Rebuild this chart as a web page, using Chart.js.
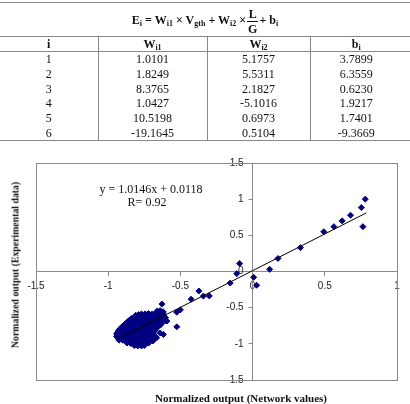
<!DOCTYPE html>
<html>
<head>
<meta charset="utf-8">
<script src="https://cdn.jsdelivr.net/npm/chart.js@4/dist/chart.umd.min.js"></script>
<style>
  html, body { margin:0; padding:0; background:#fff; }
  body { width:410px; height:404px; position:relative; overflow:hidden; }
  #chart { position:absolute; left:0; top:0; }
  table { position:absolute; left:0; top:2px; width:410px; border-collapse:collapse;
          font-family:'Liberation Serif','Times New Roman',serif; font-size:12px; color:#111; table-layout:fixed; }
  td { padding:0; text-align:center; line-height:12px; }
  tr.formula td { height:29px; border-top:1px solid #888; border-bottom:1px solid #888; font-weight:bold; font-size:12px; padding-top:4px; }
  tr.head td { height:14px; border-bottom:1px solid #888; font-weight:bold; }
  tr.data td { height:14.7px; }
  tr.last td { border-bottom:1px solid #888; }
  td + td { border-left:1px solid #888; }
  tr.formula td + td { border-left:none; }
  sub { font-size:8px; vertical-align:-2px; line-height:0; }
  .frac { display:inline-block; vertical-align:middle; text-align:center; margin:0 1px; }
  .frac span { display:block; line-height:14px; padding:0 1px; }
  .frac span + span { border-top:1px solid #111; }
  .title { position:absolute; font-family:'Liberation Serif','Times New Roman',serif; font-weight:bold; white-space:nowrap; color:#111; }
  .note { position:absolute; font-family:'Liberation Serif','Times New Roman',serif; font-size:12px; white-space:nowrap; color:#111; transform:translate(-50%,-50%); }
</style>
</head>
<body>
<canvas id="chart" width="410" height="404"></canvas>
<table id="tbl"></table>
<div class="title" id="xTitle" style="left:241px; top:398px; font-size:11px; transform:translate(-50%,-50%);"></div>
<div class="title" id="yTitle" style="left:15px; top:265px; font-size:9.8px; transform:translate(-50%,-50%) rotate(-90deg);"></div>
<div class="note" id="eqLine" style="left:151px; top:189px;"></div>
<div class="note" id="rLine" style="left:147px; top:202px;"></div>
<script>
// ---------- table data ----------
const rowIndex = ['1','2','3','4','5','6'];
const wi1 = ['1.0101','1.8249','8.3765','1.0427','10.5198','-19.1645'];
const wi2 = ['5.1757','5.5311','2.1827','-5.1016','0.6973','0.5104'];
const bi  = ['3.7899','6.3559','0.6230','1.9217','1.7401','-9.3669'];

// ---------- chart data ----------
const xTickValues = [-1.5, -1, -0.5, 0, 0.5, 1];
const yTickValues = [-1.5, -1, -0.5, 0, 0.5, 1, 1.5];
const xTitleText = 'Normalized output (Network values)';
const yTitleText = 'Normalized output (Experimental data)';
const equationText = 'y = 1.0146x + 0.0118';
const rText = 'R= 0.92';

// scattered points [network value, experimental value]
const outerPoints = [
  [0.78,1.0],[0.753,0.884],[0.764,0.62],[0.678,0.778],[0.62,0.70],[0.563,0.62],[0.493,0.55],
  [0.331,0.33],[0.176,0.18],[0.118,0.03],[-0.09,0.11],[-0.11,-0.03],[0.007,-0.08],[0.028,-0.19],
  [-0.155,-0.16],[-0.372,-0.27],[-0.30,-0.337],[-0.341,-0.34],[-0.426,-0.383],[-0.50,-0.53],
  [-0.525,-0.563],[-0.525,-0.765],[-0.628,-0.45],[-0.594,-0.685],[-0.618,-0.87],[-0.64,-0.85],
  [-0.664,-0.915],[-0.69,-0.96],[-0.68,-0.89]
];
// dense cluster points [network value, experimental value]
const clusterPoints = [
  [-0.66,-0.55],[-0.64,-0.545],[-0.62,-0.56],
  [-0.79,-0.60],[-0.77,-0.59],[-0.745,-0.59],[-0.72,-0.585],[-0.695,-0.59],[-0.67,-0.585],[-0.645,-0.58],[-0.62,-0.595],
  [-0.82,-0.64],[-0.80,-0.63],[-0.775,-0.63],[-0.75,-0.625],[-0.725,-0.63],[-0.70,-0.63],[-0.675,-0.625],[-0.65,-0.63],[-0.625,-0.63],[-0.605,-0.64],
  [-0.855,-0.68],[-0.83,-0.675],[-0.805,-0.67],[-0.78,-0.675],[-0.755,-0.675],[-0.73,-0.67],[-0.705,-0.675],[-0.68,-0.67],[-0.655,-0.675],[-0.63,-0.67],[-0.605,-0.68],
  [-0.88,-0.725],[-0.855,-0.72],[-0.83,-0.72],[-0.805,-0.715],[-0.78,-0.72],[-0.755,-0.72],[-0.73,-0.715],[-0.705,-0.72],[-0.68,-0.72],[-0.655,-0.725],[-0.635,-0.73],
  [-0.905,-0.77],[-0.88,-0.765],[-0.855,-0.765],[-0.83,-0.76],[-0.805,-0.765],[-0.78,-0.765],[-0.755,-0.76],[-0.73,-0.765],[-0.705,-0.765],[-0.68,-0.77],[-0.655,-0.76],
  [-0.925,-0.815],[-0.90,-0.81],[-0.875,-0.81],[-0.85,-0.805],[-0.825,-0.81],[-0.80,-0.81],[-0.775,-0.805],[-0.75,-0.81],[-0.725,-0.81],[-0.70,-0.815],[-0.675,-0.81],
  [-0.94,-0.86],[-0.915,-0.855],[-0.89,-0.855],[-0.865,-0.85],[-0.84,-0.855],[-0.815,-0.855],[-0.79,-0.85],[-0.765,-0.855],[-0.74,-0.855],[-0.715,-0.86],[-0.69,-0.855],
  [-0.94,-0.90],[-0.915,-0.90],[-0.89,-0.895],[-0.865,-0.90],[-0.84,-0.90],[-0.815,-0.895],[-0.79,-0.90],[-0.765,-0.90],[-0.74,-0.895],[-0.715,-0.905],
  [-0.925,-0.945],[-0.90,-0.945],[-0.875,-0.94],[-0.85,-0.945],[-0.825,-0.945],[-0.80,-0.94],[-0.775,-0.945],[-0.75,-0.945],[-0.725,-0.95],[-0.70,-0.945],
  [-0.87,-0.985],[-0.845,-0.99],[-0.82,-0.99],[-0.795,-0.985],[-0.77,-0.99],[-0.745,-0.99],[-0.72,-0.985],
  [-0.82,-1.02],[-0.795,-1.025],[-0.77,-1.025],[-0.75,-1.02],
  [-0.81,-0.61],[-0.735,-0.605],[-0.66,-0.605],[-0.84,-0.655],[-0.76,-0.65],[-0.69,-0.65],[-0.62,-0.655],
  [-0.865,-0.70],[-0.79,-0.695],[-0.715,-0.695],[-0.645,-0.70],[-0.89,-0.745],[-0.815,-0.74],[-0.74,-0.74],[-0.665,-0.745],
  [-0.915,-0.79],[-0.84,-0.785],[-0.765,-0.785],[-0.69,-0.79],[-0.93,-0.835],[-0.86,-0.83],[-0.785,-0.83],[-0.71,-0.835],
  [-0.93,-0.88],[-0.855,-0.875],[-0.78,-0.875],[-0.705,-0.88],[-0.905,-0.925],[-0.83,-0.92],[-0.755,-0.92],[-0.71,-0.925],
  [-0.86,-0.965],[-0.785,-0.965],[-0.73,-0.965],[-0.81,-1.005],[-0.76,-1.005]
];
// regression line end points
const trendPoints = [[-0.93,-0.932],[0.787,0.81]];

// ---------- build table ----------
const tbl = document.getElementById('tbl');
let html = '<colgroup><col style="width:98px"><col style="width:109px"><col style="width:103px"><col style="width:100px"></colgroup>';
html += '<tr class="formula"><td colspan="4">E<sub>i</sub> = W<sub>i1</sub> &times; V<sub>gth</sub> + W<sub>i2</sub> &times;<span class="frac"><span>L</span><span>G</span></span>+ b<sub>i</sub></td></tr>';
html += '<tr class="head"><td>i</td><td>W<sub>i1</sub></td><td>W<sub>i2</sub></td><td style="padding-right:8px">b<sub>i</sub></td></tr>';
for (let k = 0; k < rowIndex.length; k++) {
  html += '<tr class="data' + (k === rowIndex.length - 1 ? ' last' : '') + '"><td>' + rowIndex[k] + '</td><td>' + wi1[k] +
          '</td><td>' + wi2[k] + '</td><td style="padding-right:8px">' + bi[k] + '</td></tr>';
}
tbl.innerHTML = html;
document.getElementById('xTitle').textContent = xTitleText;
document.getElementById('yTitle').textContent = yTitleText;
document.getElementById('eqLine').textContent = equationText;
document.getElementById('rLine').textContent = rText;

// ---------- chart ----------
const toXY = arr => arr.map(p => ({x: p[0], y: p[1]}));
const frame = {
  id: 'frame',
  afterLayout(chart) {
    // move the vertical axis to x = 0 (it takes no room at the left)
    const ys = chart.scales.y;
    const x0 = chart.scales.x.getPixelForValue(0);
    ys.left = 0; ys.right = x0;
  },
  beforeDatasetsDraw(chart) {
    const a = chart.chartArea, ctx = chart.ctx;
    ctx.save();
    ctx.strokeStyle = '#8a8a8a';
    ctx.lineWidth = 1;
    ctx.strokeRect(Math.round(a.left) + 0.5, Math.round(a.top) + 0.5, Math.round(a.right - a.left), Math.round(a.bottom - a.top));
    ctx.restore();
  }
};
const tickFont = {family: "'Liberation Sans', Arial, sans-serif", size: 10};
const fmt = v => String(v);
const markStyle = { pointStyle: 'rectRot', backgroundColor: '#000080', borderColor: '#000080', borderWidth: 1, order: 1 };
new Chart(document.getElementById('chart'), {
  type: 'scatter',
  data: {
    datasets: [
      { type: 'line', data: toXY(trendPoints), borderColor: '#000', borderWidth: 1, pointRadius: 0, fill: false, order: 0 },
      Object.assign({ data: toXY(clusterPoints), pointRadius: 3.3 }, markStyle),
      Object.assign({ data: toXY(outerPoints), pointRadius: 3 }, markStyle)
    ]
  },
  options: {
    responsive: false,
    animation: false,
    events: [],
    layout: { padding: { left: 36, right: 13, top: 163, bottom: 24 } },
    plugins: { legend: { display: false }, tooltip: { enabled: false } },
    scales: {
      x: {
        type: 'linear', min: -1.5, max: 1, position: { y: 0 },
        afterBuildTicks: s => { s.ticks = xTickValues.map(v => ({value: v})); },
        ticks: { font: tickFont, color: '#222', padding: 5, maxRotation: 0, callback: fmt },
        grid: { drawOnChartArea: false, tickLength: 4, color: '#8a8a8a' },
        border: { display: true, color: '#8a8a8a', width: 1 }
      },
      y: {
        type: 'linear', min: -1.5, max: 1.5, position: 'left',
        afterFit: s => { s.width = 0; },
        afterBuildTicks: s => { s.ticks = yTickValues.map(v => ({value: v})); },
        ticks: { font: tickFont, color: '#222', padding: 5, callback: fmt },
        grid: { drawOnChartArea: false, tickLength: 4, color: '#8a8a8a' },
        border: { display: true, color: '#8a8a8a', width: 1 }
      }
    }
  },
  plugins: [frame]
});
</script>
</body>
</html>
